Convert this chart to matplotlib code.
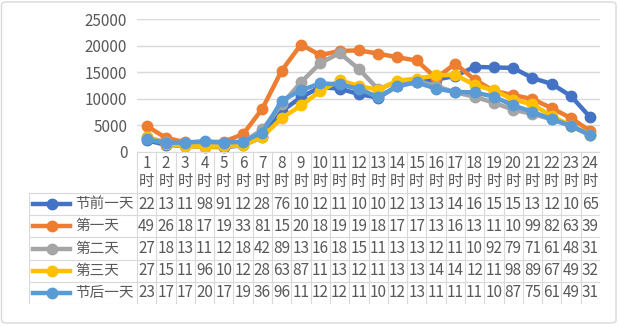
import matplotlib
matplotlib.use("Agg")
import matplotlib.pyplot as plt
from matplotlib.patches import FancyBboxPatch
from matplotlib.lines import Line2D

plt.rcParams['font.family'] = ['Noto Sans CJK SC', 'DejaVu Sans']

# data (hourly counts, 1..24 时)
hours = [f"{h}\n时" for h in range(1, 25)]
names = ["节前一天", "第一天", "第二天", "第三天", "节后一天"]
colors = ["#4472C4", "#ED7D31", "#A5A5A5", "#FFC000", "#5B9BD5"]

before = [2200, 1350, 1150, 980, 910, 1250, 2850, 7650, 10300, 12200, 11900, 10900,
          10200, 12400, 13200, 13600, 14300, 16000, 15900, 15800, 13900, 12800, 10500, 6500]
day1 = [4900, 2650, 1850, 1750, 1950, 3350, 8150, 15300, 20200, 18200, 19000, 19100,
        18500, 17800, 17200, 13900, 16600, 13600, 11500, 10700, 9950, 8250, 6350, 3950]
day2 = [2750, 1850, 1350, 1150, 1250, 1850, 4250, 8950, 13100, 16700, 18600, 15600,
        11800, 13200, 13400, 12400, 11200, 10400, 9250, 7950, 7150, 6150, 4850, 3150]
day3 = [2750, 1550, 1150, 960, 1050, 1250, 2850, 6350, 8750, 11400, 13500, 12400,
        11700, 13400, 13800, 14400, 14500, 12600, 11600, 9850, 8950, 6750, 4950, 3250]
after = [2350, 1750, 1750, 2050, 1750, 1950, 3650, 9650, 11600, 12900, 12700, 11900,
         10300, 12400, 13100, 11900, 11300, 11200, 10400, 8750, 7550, 6150, 4950, 3150]
series = [before, day1, day2, day3, after]

W, H = 619, 326
fig = plt.figure(figsize=(W / 100, H / 100), dpi=100)
fig.patch.set_facecolor("white")

def px_axes(x0, y0, x1, y1):
    return fig.add_axes([x0 / W, 1 - y1 / H, (x1 - x0) / W, (y1 - y0) / H])

# outer border
fig.patches.append(FancyBboxPatch((1.5 / W, 3 / H), 614.5 / W, 321 / H,
                                  boxstyle="round,pad=0,rounding_size=0.008",
                                  transform=fig.transFigure, fill=False,
                                  edgecolor="#D9D9D9", linewidth=1))

txt = "#595959"
grid = "#D9D9D9"
fs = 11

# chart area
ax = px_axes(137, 19, 600, 152)
ax.set_xlim(0.5, 24.5)
ax.set_ylim(0, 25000)
ax.set_yticks(range(0, 25001, 5000))
ax.set_xticks([])
ax.grid(axis="y", color=grid, linewidth=1)
ax.set_axisbelow(True)
for s in ax.spines.values():
    s.set_visible(False)
ax.tick_params(axis="y", length=0, labelsize=fs, labelcolor=txt, pad=7)
x = list(range(1, 25))
for vals, c in zip(series, colors):
    ax.plot(x, vals, color=c, linewidth=3.2, marker="o", markersize=7.5,
            clip_on=False)

# data table
col_w = 463 / 24
tax = px_axes(29, 152, 600, 304)
left = 0.5 - 108 / col_w
tax.set_xlim(left, 24.5)
tax.set_ylim(304, 152)
tax.axis("off")
row_tops = [193, 215.2, 237.4, 259.6, 281.8, 304]
lw = 0.8
# horizontal lines
tax.plot([0.5, 24.5], [152, 152], color=grid, lw=lw)
for y in row_tops:
    tax.plot([left, 24.5], [y, y], color=grid, lw=lw)
# vertical lines
tax.plot([left, left], [193, 304], color=grid, lw=lw)
for i in range(25):
    tax.plot([i + 0.5, i + 0.5], [152, 304], color=grid, lw=lw)
# header
for i, h in enumerate(hours):
    tax.text(i + 1, 172.5, h, ha="center", va="center", fontsize=fs,
             color=txt, linespacing=1.1)
# rows
for r, (name, c, vals) in enumerate(zip(names, colors, series)):
    yc = (row_tops[r] + row_tops[r + 1]) / 2
    lx0 = left + 4 / col_w
    lx1 = left + 41 / col_w
    tax.add_line(Line2D([lx0, lx1], [yc, yc], color=c, lw=3.2))
    tax.plot([(lx0 + lx1) / 2], [yc], marker="o", color=c, markersize=7.5)
    tax.text(left + 46 / col_w, yc, name, ha="left", va="center",
             fontsize=10.5, color=txt)
    for i, v in enumerate(vals):
        tax.text(i + 1, yc, str(int(v))[:2], ha="center", va="center",
                 fontsize=fs, color=txt)

fig.savefig("out.png", dpi=100)
